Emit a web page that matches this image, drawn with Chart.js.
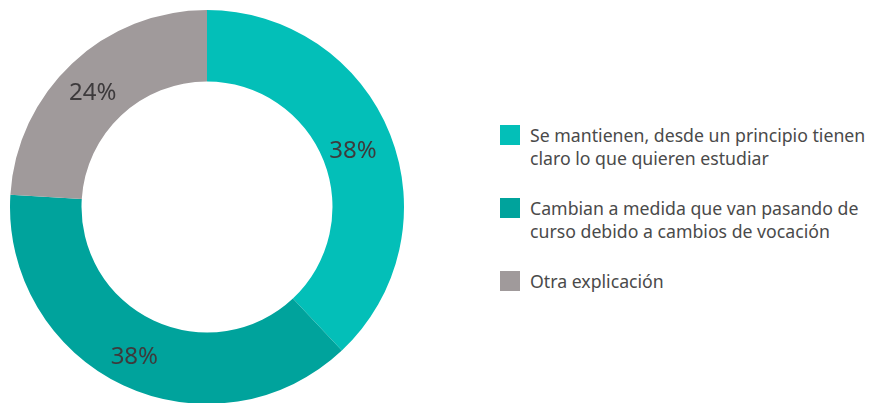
<!DOCTYPE html>
<html>
<head>
<meta charset="utf-8">
<script src="https://cdn.jsdelivr.net/npm/chart.js@4"></script>
<style>
    body { margin: 0; width: 869px; height: 403px; overflow: hidden; background: #fff; position: relative; font-family: "Noto Sans", sans-serif; }
    #chart-box { position: absolute; left: 0; top: 0; width: 414px; height: 414px; }
    #legend { position: absolute; left: 500px; top: 124px; color: #4a4a4a; font-size: 17.7px; line-height: 23px; }
    .item { display: flex; align-items: flex-start; margin-bottom: 27px; }
    .swatch { width: 20px; height: 20px; margin-right: 10px; flex: none; margin-top: 1px; }
</style>
</head>
<body>
<div id="chart-box"><canvas id="pieChart" width="414" height="414"></canvas></div>
<div id="legend"></div>
<script>
const labels = [
    ['Se mantienen, desde un principio tienen', 'claro lo que quieren estudiar'],
    ['Cambian a medida que van pasando de', 'curso debido a cambios de vocación'],
    ['Otra explicación']
];
const values = [38, 38, 24];
const colors = ['#03bfb8', '#00a39c', '#a09a9b'];

// percent labels drawn on each slice
const sliceLabels = {
    id: 'sliceLabels',
    afterDatasetsDraw(chart) {
        const ctx = chart.ctx;
        const meta = chart.getDatasetMeta(0);
        ctx.save();
        ctx.font = '24px "Noto Sans", sans-serif';
        ctx.fillStyle = '#3d3a3c';
        ctx.textAlign = 'center';
        ctx.textBaseline = 'middle';
        meta.data.forEach(function (arc, i) {
            const p = arc.tooltipPosition();
            ctx.fillText(values[i] + '%', p.x - 4, p.y + 4);
        });
        ctx.restore();
    }
};

const ctx = document.getElementById('pieChart').getContext('2d');
const chart = new Chart(ctx, {
    type: 'doughnut',
    data: {
        labels: labels.map(l => l.join(' ')),
        datasets: [{
            backgroundColor: colors,
            borderWidth: 0,
            data: values
        }]
    },
    options: {
        responsive: false,
        animation: false,
        cutout: '63.7%',
        layout: { padding: 10 },
        plugins: {
            legend: { display: false },
            tooltip: { enabled: false }
        }
    },
    plugins: [sliceLabels]
});

let legend = document.getElementById('legend');
labels.forEach(function (lines, i) {
    let item = document.createElement('div');
    item.className = 'item';
    let sw = document.createElement('div');
    sw.className = 'swatch';
    sw.style.background = colors[i];
    let txt = document.createElement('div');
    txt.innerHTML = lines.join('<br>');
    item.appendChild(sw);
    item.appendChild(txt);
    legend.appendChild(item);
});
</script>
</body>
</html>
